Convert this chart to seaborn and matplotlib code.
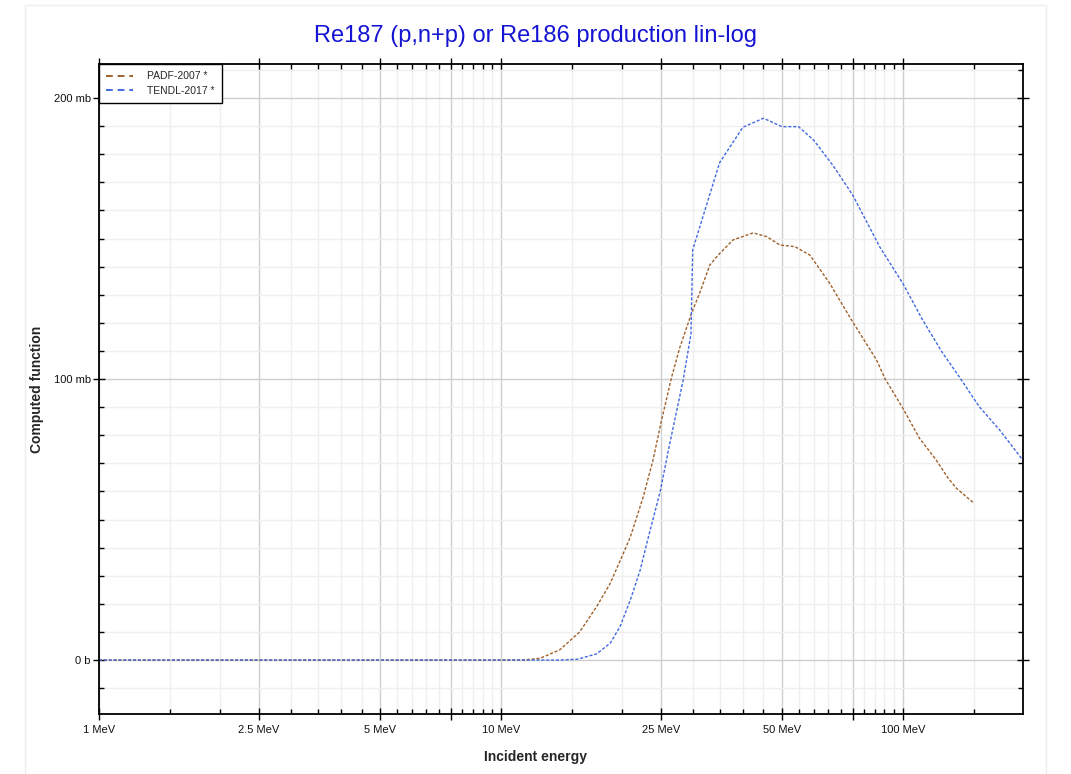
import numpy as np
import pandas as pd
import matplotlib
matplotlib.use('Agg')
import matplotlib.pyplot as plt
import seaborn as sns
from matplotlib.ticker import FixedLocator, FuncFormatter, MultipleLocator
from matplotlib.lines import Line2D
from matplotlib.patches import Rectangle

# valeurs (énergie en MeV, section efficace en mb)
padf_energy = [1, 5, 10, 11.5, 12.5, 14, 15.7, 17.3, 18.7, 20, 21, 22.6, 23.9, 25.1,
               26.6, 27.9, 29.8, 31.3, 33.1, 34.7, 37.8, 42.4, 45.8, 49.4, 53.9,
               58.7, 65.8, 74.5, 86, 90.2, 100, 110, 121, 129.6, 136, 148, 150]
padf_xs = [0, 0, 0, 0.1, 0.6, 3.6, 10, 19, 27.3, 36.8, 43.9, 58.1, 71.2, 85.4,
           100.8, 111.5, 123.4, 131, 140.6, 144.1, 149.5, 152, 150.7, 147.7, 147.1,
           144.1, 134, 121, 106.8, 100.2, 89.6, 78.9, 71.2, 64.7, 61.1, 56.6, 56]

tendl_energy = [1, 5, 10, 14, 15.5, 17.3, 18.7, 19.8, 21, 22.2, 23.2, 24.9, 26.3,
                28.4, 29.7, 30, 35, 40, 45, 50, 55, 60, 67, 75, 87.6, 100, 112,
                125, 139, 155, 174, 196, 199]
tendl_xs = [0, 0, 0, 0, 0.3, 2.2, 6, 12, 21.5, 32, 43, 60, 77,
            99.6, 116, 146, 177, 189.6, 192.8, 189.8, 189.8, 185, 176, 165.5, 147, 134, 121,
            109.7, 100.2, 90.1, 81.9, 72.3, 71]

libraries = ['PADF-2007 *', 'TENDL-2017 *']
colors = ['#a0622d', '#4169e1']

x_major = [1, 2.5, 5, 7.5, 10, 25, 50, 75, 100]
x_labeled = [1, 2.5, 5, 10, 25, 50, 100]
x_minor = [1.5, 2, 3, 3.5, 4, 4.5, 5.5, 6, 6.5, 7, 8, 8.5, 9, 9.5, 15, 20,
           30, 35, 40, 45, 55, 60, 65, 70, 80, 85, 90, 95, 150]

df = pd.concat([
    pd.DataFrame({'energy': padf_energy, 'xs': padf_xs, 'library': libraries[0]}),
    pd.DataFrame({'energy': tendl_energy, 'xs': tendl_xs, 'library': libraries[1]}),
])

sns.set_theme(style='white')
plt.rcParams['font.family'] = ['Liberation Sans', 'DejaVu Sans']

fig = plt.figure(figsize=(10.71, 7.74), dpi=100)
ax = fig.add_axes([99 / 1071, 60 / 774, 924 / 1071, 650 / 774])

sns.lineplot(data=df, x='energy', y='xs', hue='library', palette=colors,
             estimator=None, sort=False, linewidth=1, legend=False, ax=ax)
for line in ax.lines:
    line.set_dashes((2.2, 1.3))

ax.set_xscale('log')
ax.set_xlim(1, 199)
ax.set_ylim(-19.2, 212.1)

ax.xaxis.set_major_locator(FixedLocator(x_major))
ax.xaxis.set_minor_locator(FixedLocator(x_minor))
ax.xaxis.set_major_formatter(FuncFormatter(lambda v, p: f'{v:g} MeV' if v in x_labeled else ''))
ax.xaxis.set_minor_formatter(FuncFormatter(lambda v, p: ''))
ax.yaxis.set_major_locator(FixedLocator([0, 100, 200]))
ax.yaxis.set_minor_locator(MultipleLocator(10))
ax.yaxis.set_major_formatter(FuncFormatter(lambda v, p: '0 b' if v == 0 else f'{v:g} mb'))

ax.grid(which='major', color='#cfcfcf', linewidth=1)
ax.grid(which='minor', color='#efefef', linewidth=1)
ax.set_axisbelow(True)

ax.tick_params(which='major', direction='inout', length=8, width=1, color='black',
               bottom=True, top=True, left=True, right=True, labelsize=8, pad=4,
               labelcolor='#111111')
ax.tick_params(axis='y', which='major', pad=2)
ax.tick_params(which='minor', direction='in', length=3.5, width=1, color='black',
               bottom=True, top=True, left=True, right=True)
for s in ax.spines.values():
    s.set_color('black')
    s.set_linewidth(1.3)

ax.set_xlabel('')
ax.set_ylabel('')

handles = [Line2D([], [], color=c, lw=1.4, linestyle=(0, (3.5, 2.5))) for c in colors]
leg = ax.legend(handles, libraries, loc='upper left', bbox_to_anchor=(0, 1),
                borderaxespad=0, fancybox=False, edgecolor='black', framealpha=1,
                fontsize=7.5, handlelength=2.6, handletextpad=1.3, labelspacing=0.45,
                borderpad=0.7)
leg.get_frame().set_linewidth(1)

fig.text(0.5, 1 - 36 / 774, 'Re187 (p,n+p) or Re186 production lin-log',
         ha='center', va='center', color='#1414d2', fontsize=17)
fig.text(0.5, 1 - 757 / 774, 'Incident energy', ha='center', va='center',
         fontsize=10, fontweight='bold')
fig.text(37 / 1071, 1 - 389 / 774, 'Computed function', ha='center', va='center',
         rotation=90, fontsize=10, fontweight='bold')

fig.add_artist(Rectangle((25 / 1071, -0.02), (1046 - 25) / 1071, 1.02 - 5 / 774,
                         transform=fig.transFigure, fill=False,
                         edgecolor='#eeeeee', linewidth=1))

fig.savefig('out.png', dpi=100)
